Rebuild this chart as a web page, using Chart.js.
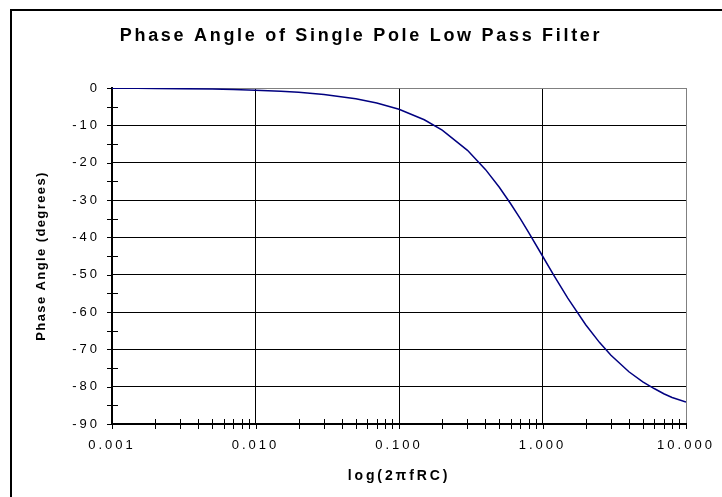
<!DOCTYPE html>
<html>
<head>
<meta charset="utf-8">
<script src="https://cdn.jsdelivr.net/npm/chart.js@4/dist/chart.umd.min.js"></script>
<style>
  html, body { margin: 0; padding: 0; background: #fff; }
  #c { display: block; }
</style>
</head>
<body>
<canvas id="c" width="722" height="497"></canvas>
<script>
// ---- Data ----
const freqRatio = [0.001, 0.0015, 0.002, 0.003, 0.005, 0.007, 0.01, 0.015, 0.02, 0.03, 0.05, 0.07,
                   0.1, 0.15, 0.2, 0.3, 0.4, 0.5, 0.6, 0.7, 0.8, 1.0, 1.2, 1.5, 2.0, 2.5, 3.0,
                   4.0, 5.0, 6.0, 7.0, 8.0, 10.0];
const phaseDeg  = [-0.06, -0.09, -0.11, -0.17, -0.29, -0.40, -0.57, -0.86, -1.15, -1.72, -2.86, -4.0,
                   -5.7, -8.5, -11.3, -16.7, -21.8, -26.6, -31.0, -35.0, -38.7, -45.0, -50.2, -56.3,
                   -63.4, -68.2, -71.6, -76.0, -78.7, -80.5, -81.9, -82.9, -84.1];
const xTickValues = [0.001, 0.01, 0.1, 1, 10];
const yTickValues = [0, -10, -20, -30, -40, -50, -60, -70, -80, -90];
const chartTitle = 'Phase Angle of Single Pole Low Pass Filter';
const xTitle = 'log(2\u03C0fRC)';
const yTitle = 'Phase Angle (degrees)';

const FONT = "'Liberation Sans', Arial, sans-serif";

// letter spacing per font (the reference text is horizontally stretched)
function spacingFor(font) {
  const bold = /bold/.test(font);
  const m = font.match(/([\d.]+)px/);
  const size = m ? parseFloat(m[1]) : 12;
  if (bold && size >= 17) return '2.7px';   // chart title
  if (bold && size >= 14) return '2.9px';   // x title
  if (bold) return '1.4px';                 // y title
  return '3px';                             // tick labels
}

const framePlugin = {
  id: 'frame',
  beforeDraw(chart) {
    const ctx = chart.ctx;
    if (!ctx.__spacedFill) {
      const proto = CanvasRenderingContext2D.prototype;
      ctx.fillText = function (text, x, y, mw) {
        try { this.letterSpacing = spacingFor(this.font); } catch (e) {}
        const r = mw === undefined ? proto.fillText.call(this, text, x, y) : proto.fillText.call(this, text, x, y, mw);
        try { this.letterSpacing = '0px'; } catch (e) {}
        return r;
      };
      ctx.__spacedFill = true;
    }
    ctx.save();
    ctx.fillStyle = '#fff';
    ctx.fillRect(0, 0, chart.width, chart.height);
    ctx.strokeStyle = '#000';
    ctx.lineWidth = 2;
    ctx.beginPath();
    ctx.moveTo(11, chart.height + 5);
    ctx.lineTo(11, 10);
    ctx.lineTo(chart.width + 5, 10);
    ctx.stroke();
    ctx.restore();
  },
  afterDraw(chart) {
    const ctx = chart.ctx;
    const xs = chart.scales.x, ys = chart.scales.y;
    const a = chart.chartArea;
    ctx.save();
    ctx.strokeStyle = '#000';
    ctx.lineWidth = 1;
    ctx.beginPath();
    // y ticks: major outward, minor crossing
    for (let i = 0; i < yTickValues.length; i++) {
      const v = yTickValues[i];
      const py = Math.round(ys.getPixelForValue(v)) + 0.5;
      ctx.moveTo(a.left - 5, py); ctx.lineTo(a.left, py);
      if (i < yTickValues.length - 1) {
        const mv = (yTickValues[i] + yTickValues[i + 1]) / 2;
        const my = Math.round(ys.getPixelForValue(mv)) + 0.5;
        ctx.moveTo(a.left - 5, my); ctx.lineTo(a.left + 6, my);
      }
    }
    // x ticks: decades outward, sub-decades crossing
    for (let i = 0; i < xTickValues.length; i++) {
      const d = xTickValues[i];
      const px = Math.round(xs.getPixelForValue(d)) + 0.5;
      ctx.moveTo(px, a.bottom); ctx.lineTo(px, a.bottom + 5);
      if (i < xTickValues.length - 1) {
        for (let k = 2; k <= 9; k++) {
          const mx = Math.round(xs.getPixelForValue(d * k)) + 0.5;
          ctx.moveTo(mx, a.bottom - 5); ctx.lineTo(mx, a.bottom + 5);
        }
      }
    }
    ctx.stroke();
    ctx.restore();
  }
};

new Chart(document.getElementById('c'), {
  type: 'line',
  data: {
    datasets: [{
      data: freqRatio.map((f, i) => ({ x: f, y: phaseDeg[i] })),
      borderColor: '#000080',
      borderWidth: 1.5,
      pointRadius: 0,
      tension: 0,
      fill: false
    }]
  },
  options: {
    responsive: false,
    animation: false,
    devicePixelRatio: 1,
    layout: { padding: { left: 0, right: 0, top: 0, bottom: 0 } },
    plugins: {
      legend: { display: false },
      tooltip: { enabled: false },
      title: {
        display: true,
        text: chartTitle,
        color: '#000',
        font: { family: FONT, size: 18, weight: 'bold', lineHeight: 1.2 },
        padding: { top: 25.7, bottom: 40.7 }
      }
    },
    scales: {
      x: {
        type: 'logarithmic',
        min: 0.001,
        max: 10,
        afterBuildTicks(scale) { scale.ticks = xTickValues.map(v => ({ value: v })); },
        afterFit(scale) { scale.height = 73; scale.paddingLeft = 0; scale.paddingRight = 36; },
        ticks: {
          color: '#000',
          font: { family: FONT, size: 13 },
          padding: 14,
          maxRotation: 0,
          autoSkip: false,
          callback: (v) => Number(v).toFixed(3)
        },
        grid: {
          drawTicks: false,
          color: (c) => (c.tick && c.tick.value === 10) ? '#808080' : '#000',
          lineWidth: 1
        },
        border: { display: true, color: '#000', width: 2 },
        title: {
          display: true,
          text: xTitle,
          color: '#000',
          font: { family: FONT, size: 14, weight: 'bold', lineHeight: 1.2 },
          padding: { top: 0, bottom: 12.6 }
        }
      },
      y: {
        type: 'linear',
        min: -90,
        max: 0,
        afterBuildTicks(scale) { scale.ticks = yTickValues.slice().reverse().map(v => ({ value: v })); },
        afterFit(scale) { scale.width = 112; },
        ticks: {
          color: '#000',
          font: { family: FONT, size: 13 },
          padding: 12,
          callback: (v) => String(Math.round(v) === 0 ? 0 : Math.round(v))
        },
        grid: {
          drawTicks: false,
          color: (c) => (c.tick && c.tick.value === 0) ? '#808080' : '#000',
          lineWidth: 1
        },
        border: { display: true, color: '#000', width: 2 },
        title: {
          display: true,
          text: yTitle,
          color: '#000',
          font: { family: FONT, size: 13, weight: 'bold', lineHeight: 1.2 },
          padding: { top: 34, bottom: 0 }
        }
      }
    }
  },
  plugins: [framePlugin]
});
</script>
</body>
</html>
